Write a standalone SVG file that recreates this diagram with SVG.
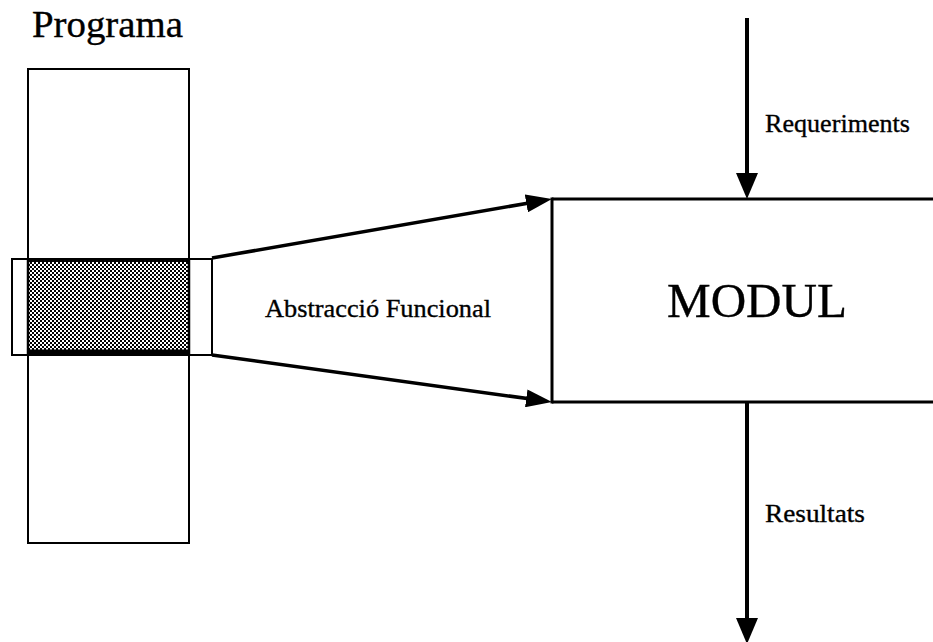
<svg xmlns="http://www.w3.org/2000/svg" width="933" height="642" viewBox="0 0 933 642">
  <style>
    .bg { fill: #ffffff; }
    .box { fill: none; stroke: #000; stroke-width: 2; }
    .edge { fill: none; stroke: #000; stroke-width: 3; }
    .flow { fill: none; stroke: #000; stroke-width: 3.5; stroke-linecap: butt; }
    .flowv { fill: none; stroke: #000; stroke-width: 4; stroke-linecap: butt; }
    .lbl { font-family: "Liberation Serif", "Times New Roman", serif; fill: #000; stroke: #000; stroke-width: 0.35; }
  </style>
  <defs>
    <!-- fine checker used for the selected slice of the program -->
    <pattern id="dither" width="4" height="4" patternUnits="userSpaceOnUse">
      <rect width="4" height="4" fill="#ffffff"/>
      <rect x="0" y="0" width="2" height="2" fill="#000"/>
      <rect x="2" y="2" width="2" height="2" fill="#000"/>
    </pattern>
    <!-- filled arrowhead; tip sits 10px beyond the path end -->
    <marker id="head" markerUnits="userSpaceOnUse" viewBox="0 0 26 18" refX="16" refY="9" markerWidth="26" markerHeight="18" orient="auto">
      <path d="M0,0 L26,9 L0,18 z" fill="#000"/>
    </marker>
    <marker id="headWide" markerUnits="userSpaceOnUse" viewBox="0 0 26 22" refX="16" refY="11" markerWidth="26" markerHeight="22" orient="auto">
      <path d="M0,0 L26,11 L0,22 z" fill="#000"/>
    </marker>
  </defs>

  <rect class="bg" x="0" y="0" width="933" height="642"/>

  <!-- the program: tall column with a highlighted horizontal slice -->
  <g id="programa">
    <text class="lbl" x="32" y="37" font-size="37" textLength="151" lengthAdjust="spacingAndGlyphs">Programa</text>
    <rect class="box" x="28" y="69" width="161" height="474"/>
    <rect class="box" x="12" y="259" width="200" height="96"/>
    <rect x="28" y="260" width="161" height="93" fill="url(#dither)"/>
    <line x1="28" y1="260.5" x2="189" y2="260.5" stroke="#000" stroke-width="3"/>
    <line x1="28" y1="352" x2="189" y2="352" stroke="#000" stroke-width="5"/>
    <line x1="28" y1="259" x2="28" y2="355" stroke="#000" stroke-width="2.5"/>
    <line x1="189" y1="259" x2="189" y2="355" stroke="#000" stroke-width="2.5"/>
  </g>

  <!-- label inside the widening funnel -->
  <g id="abstraccio">
    <text class="lbl" x="265" y="317" font-size="26" textLength="226" lengthAdjust="spacingAndGlyphs">Abstracció Funcional</text>
  </g>

  <!-- the module: open box running off the right edge -->
  <g id="modul">
    <line class="edge" x1="552" y1="199" x2="933" y2="199"/>
    <line class="edge" x1="552" y1="402" x2="933" y2="402"/>
    <line class="edge" x1="552" y1="197.5" x2="552" y2="403.5"/>
    <text class="lbl" x="667" y="317" font-size="48" textLength="180" lengthAdjust="spacingAndGlyphs">MODUL</text>
  </g>

  <g id="requeriments-label">
    <text class="lbl" x="765" y="132" font-size="26" textLength="145" lengthAdjust="spacingAndGlyphs">Requeriments</text>
  </g>
  <g id="resultats-label">
    <text class="lbl" x="765" y="522" font-size="26" textLength="100" lengthAdjust="spacingAndGlyphs">Resultats</text>
  </g>

  <!-- connectors -->
  <g id="connectors">
    <path class="flow" d="M212,258 L542.1,200.7" marker-end="url(#head)"/>
    <path class="flow" d="M212,355 L542.1,400.6" marker-end="url(#head)"/>
    <path class="flowv" d="M747,18 L747,189" marker-end="url(#headWide)"/>
    <path class="flowv" d="M747,402 L747,634" marker-end="url(#headWide)"/>
  </g>
</svg>
